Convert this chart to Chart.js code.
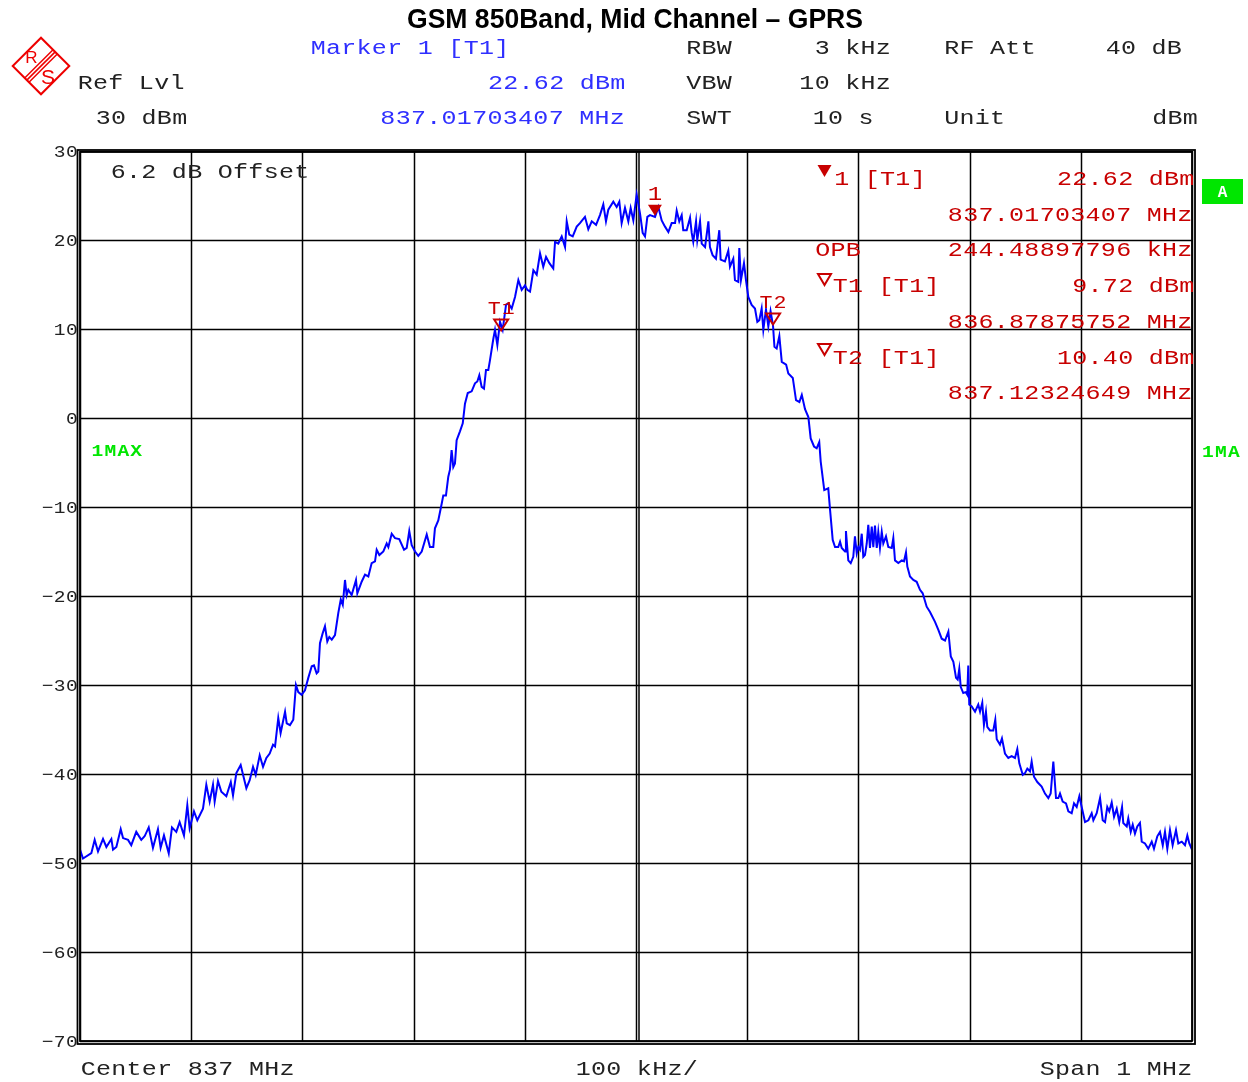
<!DOCTYPE html>
<html>
<head>
<meta charset="utf-8">
<title>GSM 850Band, Mid Channel – GPRS</title>
<script src="https://cdn.jsdelivr.net/npm/chart.js@4.4.1/dist/chart.umd.min.js"></script>
<style>
  html, body { margin: 0; padding: 0; background: #fff; }
  canvas { display: block; }
</style>
</head>
<body>
<canvas id="spectrum" width="1248" height="1082"></canvas>
<script>
// Trace: offset from 837 MHz centre (kHz) and level (dBm)
const freqOffsetKHz = [
  -500, -497.3, -489.8, -486.8, -483.8, -479.3, -476.3, -471.8, -470.3, -467.3,
  -463.4, -461.3, -456.8, -453.9, -449.4, -444.9, -441.9, -438.2, -434.4, -429.9,
  -427.5, -424.5, -420.2, -417.3, -413.4, -410.4, -406.5, -403.5, -401.4, -397.5,
  -394.5, -389.4, -386.4, -383.4, -380.4, -378.9, -375.9, -372.9, -368.4, -364.4,
  -362.4, -359.4, -355.5, -350.4, -347.4, -344.4, -342.0, -338.4, -335.4, -332.4,
  -329.4, -326.4, -324.6, -321.7, -319.6, -315.6, -314.1, -311.2, -308.2, -305.8,
  -303.7, -300.7, -297.7, -294.7, -291.6, -289.6, -287.2, -285.7, -284.2, -281.8,
  -279.7, -277.6, -275.8, -273.6, -270.7, -267.7, -265.5, -263.7, -261.7, -260.2,
  -258.7, -255.7, -251.8, -250.6, -246.7, -243.7, -240.7, -237.7, -234.7, -233.2,
  -230.8, -227.2, -224.2, -222.7, -219.7, -216.7, -212.9, -208.6, -206.2, -203.9,
  -201.7, -198.7, -195.8, -192.7, -188.2, -185.3, -182.3, -180.8, -177.8, -174.7,
  -173.3, -170.9, -168.8, -167.3, -165.8, -164.3, -162.8, -161.3, -158.3, -155.8,
  -153.8, -151.3, -147.8, -144.8, -142.7, -140.9, -138.8, -136.7, -134.9, -132.8,
  -131.3, -128.3, -126.8, -124.7, -122.3, -119.9, -116.9, -114.8, -111.8, -108.8,
  -105.8, -102.8, -99.8, -97.7, -95.3, -92.3, -89.3, -86.3, -83.4, -80.9,
  -77.9, -74.4, -72.8, -69.9, -66.8, -63.8, -62.3, -60.0, -56.9, -53.3,
  -50.4, -45.9, -42.9, -39.8, -35.9, -32.4, -29.4, -27.0, -24.9, -20.4,
  -17.4, -15.0, -12.9, -9.9, -6.9, -4.8, -2.4, 0.6, 3.6, 6.0,
  8.1, 10.2, 12.6, 17.1, 20.1, 23.1, 26.1, 29.1, 32.1, 35.1,
  36.6, 38.9, 41.1, 42.5, 45.6, 48.6, 50.1, 51.5, 54.0, 55.1,
  57.6, 59.1, 62.1, 65.1, 66.5, 68.9, 71.9, 74.9, 76.1, 80.0,
  83.0, 84.5, 87.5, 89.0, 92.0, 92.9, 94.4, 97.1, 98.9, 101.0,
  104.0, 107.0, 109.1, 110.9, 113.0, 114.5, 116.9, 119.0, 121.0, 123.2,
  124.5, 126.5, 128.9, 131.1, 135.0, 137.0, 141.0, 143.9, 146.9, 149.1,
  152.0, 155.0, 157.1, 160.1, 162.5, 164.8, 166.1, 169.3, 172.9, 174.5,
  176.9, 179.0, 181.9, 183.5, 185.0, 188.0, 188.8, 190.9, 193.1, 195.4,
  196.9, 198.5, 199.9, 201.4, 203.0, 204.4, 205.9, 207.5, 208.9, 210.4,
  212.0, 213.4, 214.9, 216.5, 217.9, 219.4, 221.0, 222.4, 224.8, 226.9,
  230.0, 231.4, 232.9, 235.9, 239.0, 241.0, 242.8, 244.0, 246.4, 249.4,
  252.4, 255.4, 257.8, 261.4, 264.4, 268.9, 271.9, 274.9, 277.9, 280.9,
  283.1, 285.4, 287.8, 289.3, 290.7, 292.0, 294.3, 296.5, 297.9, 298.8,
  299.7, 301.9, 304.9, 307.8, 309.4, 311.4, 312.9, 314.7, 315.9, 318.3,
  321.3, 323.1, 324.4, 327.3, 329.1, 331.8, 334.8, 337.8, 340.8, 342.9,
  344.7, 347.8, 349.8, 351.9, 354.3, 355.8, 357.9, 360.9, 364.8, 367.8,
  370.8, 372.9, 375.3, 377.7, 379.8, 381.3, 383.7, 386.7, 388.8, 391.8,
  393.9, 396.3, 398.7, 400.8, 403.8, 406.8, 409.8, 411.3, 414.3, 417.3,
  419.7, 421.8, 423.8, 425.6, 427.8, 429.9, 432.3, 434.6, 437.1, 438.2,
  441.3, 442.7, 444.9, 446.7, 448.7, 450.8, 453.2, 454.8, 457.7, 460.7,
  463.8, 465.8, 468.8, 471.2, 473.7, 475.7, 477.8, 480.2, 482.6, 485.6,
  487.7, 490.8, 493.7, 495.8, 497.6, 500
];
const traceLevelDbm = [
  -48.5, -49.5, -48.9, -47.4, -48.7, -47.3, -48.2, -47.3, -48.5, -48.2,
  -46.2, -47.2, -47.4, -48.0, -46.5, -47.4, -47.0, -46.0, -48.3, -46.2,
  -48.3, -46.9, -48.9, -46.0, -46.5, -45.4, -46.9, -43.5, -46.1, -44.2,
  -45.2, -43.9, -41.2, -43.1, -41.2, -43.1, -40.8, -42.0, -42.5, -40.9,
  -42.4, -39.9, -39.0, -41.6, -40.7, -39.2, -40.1, -37.9, -39.2, -38.2,
  -37.7, -36.7, -36.9, -33.7, -35.4, -33.0, -34.3, -34.5, -33.9, -30.0,
  -30.8, -31.1, -30.6, -29.2, -27.9, -27.8, -28.7, -28.5, -25.3, -24.2,
  -23.4, -25.1, -24.6, -24.9, -24.4, -21.9, -20.4, -21.0, -18.2, -19.9,
  -19.3, -19.9, -18.2, -19.7, -18.4, -17.6, -17.8, -16.3, -16.1, -14.8,
  -15.4, -15.0, -14.1, -14.5, -13.0, -13.5, -13.6, -14.8, -14.6, -12.7,
  -14.3, -15.0, -15.5, -15.0, -13.1, -14.5, -14.5, -12.4, -11.5, -9.6,
  -8.7, -8.7, -6.6, -5.8, -3.6, -5.5, -5.1, -2.5, -1.5, -0.6,
  1.6, 2.8, 3.0, 3.9, 4.1, 4.8, 3.5, 3.3, 5.4, 5.4,
  6.5, 8.9, 9.9, 8.2, 10.8, 9.9, 12.7, 12.9, 12.3, 13.6,
  15.5, 14.4, 14.9, 14.4, 14.2, 16.6, 16.1, 18.5, 17.0, 18.1,
  17.4, 16.8, 19.8, 19.6, 20.4, 19.2, 22.1, 20.6, 20.4, 21.5,
  21.9, 22.6, 21.2, 22.1, 21.7, 22.8, 24.0, 22.1, 23.4, 24.3,
  23.7, 24.3, 21.9, 23.6, 22.1, 23.6, 22.2, 25.1, 23.0, 20.8,
  20.4, 22.6, 22.8, 22.6, 23.7, 22.2, 21.5, 20.9, 21.9, 21.9,
  23.3, 22.1, 22.8, 21.1, 21.1, 22.5, 20.8, 19.8, 22.1, 20.0,
  22.1, 19.6, 19.2, 22.1, 19.2, 18.3, 17.9, 21.1, 17.8, 17.6,
  18.8, 17.0, 17.9, 15.5, 15.3, 19.1, 15.5, 17.4, 15.5, 13.6,
  12.7, 12.3, 10.8, 11.0, 12.3, 9.9, 12.2, 10.3, 12.0, 10.4,
  8.0, 7.8, 9.2, 6.3, 6.0, 5.0, 4.5, 2.0, 1.8, 2.6,
  1.0, 0.1, -2.3, -3.2, -3.4, -2.7, -4.9, -8.1, -7.9, -10.3,
  -13.7, -14.5, -14.5, -13.9, -14.6, -15.0, -12.7, -16.0, -16.3, -15.6,
  -13.3, -15.2, -14.5, -14.8, -13.0, -15.6, -15.4, -14.1, -12.0, -14.6,
  -12.2, -14.5, -12.1, -14.6, -12.8, -14.6, -12.8, -14.1, -13.3, -14.5,
  -14.6, -13.5, -16.0, -16.3, -16.0, -16.1, -15.1, -16.7, -17.8, -18.2,
  -18.4, -19.3, -19.7, -21.2, -21.8, -22.9, -23.8, -24.8, -25.0, -24.0,
  -26.8, -27.4, -29.2, -29.4, -28.2, -30.2, -30.9, -30.8, -31.1, -27.8,
  -32.2, -32.4, -33.0, -32.2, -33.0, -32.0, -34.5, -33.0, -34.7, -35.1,
  -35.1, -33.9, -36.1, -36.7, -36.0, -37.7, -38.2, -38.0, -38.2, -37.2,
  -38.8, -40.1, -39.9, -39.4, -39.7, -38.6, -40.3, -40.9, -41.4, -42.2,
  -42.7, -42.2, -38.6, -42.7, -42.7, -42.2, -43.1, -43.3, -44.2, -44.4,
  -43.3, -43.7, -42.5, -43.7, -45.4, -45.2, -44.4, -45.2, -44.4, -42.7,
  -45.2, -45.4, -43.7, -44.2, -43.2, -44.8, -43.9, -45.4, -43.7, -45.5,
  -45.9, -45.0, -46.5, -45.7, -46.7, -45.9, -45.5, -47.6, -47.8, -48.4,
  -47.6, -48.4, -47.0, -46.5, -48.0, -46.5, -48.4, -46.3, -48.0, -46.3,
  -47.8, -47.6, -48.0, -46.9, -47.8, -48.5
];

// Markers (offset kHz, level dBm, label, filled?)
const markerOffsetKHz = [17.03, -121.24, 123.25];
const markerLevelDbm = [22.62, 9.72, 10.40];
const markerNames = ['1', 'T1', 'T2'];
const markerFilled = [true, false, false];

// Axis ticks
const yTickValues = [30, 20, 10, 0, -10, -20, -30, -40, -50, -60, -70];
const xTickValues = [-500, -400, -300, -200, -100, 0, 100, 200, 300, 400, 500];

const MONO = '"Liberation Mono", "DejaVu Sans Mono", monospace';
const RED = '#c80000';
const BLUE = '#2f2fff';
const GREEN = '#00e600';

// draw text on a fixed character pitch, glyphs widened like the analyser's screen font
function mono(ctx, text, x, y, pitch, align, stretch) {
    const n = text.length;
    const sx = stretch || 1.25;
    let start = x;
    if (align === 'right') start = x - n * pitch;
    if (align === 'center') start = x - n * pitch / 2;
    ctx.textAlign = 'center';
    for (let i = 0; i < n; i++) {
        ctx.save();
        ctx.translate(start + i * pitch + pitch / 2, y);
        ctx.scale(sx, 1);
        ctx.fillText(text[i], 0, 0);
        ctx.restore();
    }
}

function triangle(ctx, cx, tipY, w, h, filled) {
    ctx.beginPath();
    ctx.moveTo(cx, tipY);
    ctx.lineTo(cx - w / 2, tipY - h);
    ctx.lineTo(cx + w / 2, tipY - h);
    ctx.closePath();
    if (filled) {
        ctx.fill();
    } else {
        ctx.lineWidth = 2;
        ctx.stroke();
    }
}

const analyserPlugin = {
    id: 'analyser',
    beforeDraw(chart) {
        const ctx = chart.ctx;
        ctx.save();
        ctx.fillStyle = '#fff';
        ctx.fillRect(0, 0, chart.width, chart.height);
        ctx.restore();
    },
    beforeDatasetsDraw(chart) {
        const ctx = chart.ctx;
        const xs = chart.scales.x;
        const ys = chart.scales.y;
        const a = chart.chartArea;
        ctx.save();
        ctx.strokeStyle = '#000';
        ctx.lineWidth = 1.5;
        xTickValues.forEach(v => {
            const px = Math.round(xs.getPixelForValue(v)) + 0.5;
            ctx.beginPath();
            ctx.moveTo(px, a.top);
            ctx.lineTo(px, a.bottom);
            ctx.stroke();
        });
        // centre frequency line is drawn doubled
        const cpx = Math.round(xs.getPixelForValue(0)) + 3;
        ctx.beginPath();
        ctx.moveTo(cpx, a.top);
        ctx.lineTo(cpx, a.bottom);
        ctx.stroke();
        yTickValues.forEach(v => {
            const py = Math.round(ys.getPixelForValue(v)) + 0.5;
            ctx.beginPath();
            ctx.moveTo(a.left, py);
            ctx.lineTo(a.right, py);
            ctx.stroke();
        });
        // y tick labels
        ctx.fillStyle = '#222';
        ctx.font = '17px ' + MONO;
        yTickValues.forEach(v => {
            const label = v < 0 ? '\u2212' + Math.abs(v) : String(v);
            mono(ctx, label, a.left - 2, ys.getPixelForValue(v) + 6, 12.2, 'right', 1.15);
        });
        ctx.restore();
    },
    afterDatasetsDraw(chart) {
        const ctx = chart.ctx;
        const xs = chart.scales.x;
        const ys = chart.scales.y;
        const a = chart.chartArea;
        ctx.save();

        // double frame
        ctx.strokeStyle = '#000';
        ctx.lineWidth = 1.8;
        ctx.strokeRect(a.left, a.top + 1, a.right - a.left, a.bottom - a.top - 1);
        ctx.strokeRect(a.left - 2.5, a.top - 1, a.right - a.left + 5.5, a.bottom - a.top + 4);

        // trace markers
        ctx.fillStyle = RED;
        ctx.strokeStyle = RED;
        markerOffsetKHz.forEach((f, i) => {
            const px = xs.getPixelForValue(f);
            const py = ys.getPixelForValue(markerLevelDbm[i]);
            triangle(ctx, px, py - 1, 14, 11, markerFilled[i]);
            ctx.font = (i === 0 ? '20px ' : '18px ') + MONO;
            mono(ctx, markerNames[i], px, py - 17, 14, 'center', 1.2);
        });

        // marker table
        ctx.font = '20px ' + MONO;
        const p = 15.3;
        triangle(ctx, 824.5, 177, 14, 12, true);
        mono(ctx, '1 [T1]', 834, 185, p);
        mono(ctx, '22.62 dBm', 1194.5, 185, p, 'right');
        mono(ctx, '837.01703407 MHz', 1192.5, 220.7, p, 'right');
        mono(ctx, 'OPB', 815, 256.4, p);
        mono(ctx, '244.48897796 kHz', 1192.5, 256.4, p, 'right');
        triangle(ctx, 824.5, 285, 13, 11, false);
        mono(ctx, 'T1 [T1]', 832.5, 292.1, p);
        mono(ctx, '9.72 dBm', 1194.5, 292.1, p, 'right');
        mono(ctx, '836.87875752 MHz', 1192.5, 327.8, p, 'right');
        triangle(ctx, 824.5, 355, 13, 11, false);
        mono(ctx, 'T2 [T1]', 832.5, 363.5, p);
        mono(ctx, '10.40 dBm', 1194.5, 363.5, p, 'right');
        mono(ctx, '837.12324649 MHz', 1192.5, 399.2, p, 'right');

        // offset note
        ctx.fillStyle = '#222';
        mono(ctx, '6.2 dB Offset', 110.5, 178, p);

        // trace labels
        ctx.fillStyle = GREEN;
        ctx.font = 'bold 17px ' + MONO;
        mono(ctx, '1MAX', 91, 456, 12.9, 'left', 1.15);
        mono(ctx, '1MA', 1201.5, 456.5, 12.9, 'left', 1.15);
        ctx.restore();
    },
    afterDraw(chart) {
        const ctx = chart.ctx;
        ctx.save();

        // title
        ctx.fillStyle = '#000';
        ctx.font = 'bold 27px "Liberation Sans", Arial, sans-serif';
        ctx.textAlign = 'center';
        ctx.fillText('GSM 850Band, Mid Channel \u2013 GPRS', 635, 28, 456);

        // R&S logo
        ctx.save();
        ctx.translate(41, 66);
        ctx.rotate(Math.PI / 4);
        ctx.strokeStyle = '#ee0000';
        ctx.lineWidth = 2;
        ctx.strokeRect(-20, -20, 40, 40);
        ctx.lineWidth = 1.5;
        [-3, 0, 3].forEach(d => {
            ctx.beginPath();
            ctx.moveTo(d, -20);
            ctx.lineTo(d, 20);
            ctx.stroke();
        });
        ctx.restore();
        ctx.fillStyle = '#ee0000';
        ctx.font = '17px "Liberation Sans", Arial, sans-serif';
        ctx.textAlign = 'center';
        ctx.fillText('R', 31.5, 63);
        ctx.font = '21px "Liberation Sans", Arial, sans-serif';
        ctx.fillText('S', 48, 84);

        // header block
        const p = 15.3;
        ctx.font = '20px ' + MONO;
        ctx.fillStyle = BLUE;
        mono(ctx, 'Marker 1 [T1]', 310.5, 54, p);
        mono(ctx, '22.62 dBm', 625.5, 89, p, 'right');
        mono(ctx, '837.01703407 MHz', 625, 124, p, 'right');
        ctx.fillStyle = '#222';
        mono(ctx, 'Ref Lvl', 77.5, 89, p);
        mono(ctx, '30 dBm', 95.5, 124, p);
        mono(ctx, 'RBW', 686, 54, p);
        mono(ctx, 'VBW', 686, 89, p);
        mono(ctx, 'SWT', 686, 124, p);
        mono(ctx, '3 kHz', 891, 54, p, 'right');
        mono(ctx, '10 kHz', 891, 89, p, 'right');
        mono(ctx, '10 s', 812.5, 124, p);
        mono(ctx, 'RF Att', 944, 54, p);
        mono(ctx, '40 dB', 1182, 54, p, 'right');
        mono(ctx, 'Unit', 944, 124, p);
        mono(ctx, 'dBm', 1198, 124, p, 'right');

        // bottom axis text
        mono(ctx, 'Center 837 MHz', 80.5, 1075, p);
        mono(ctx, '100 kHz/', 575.5, 1075, p);
        mono(ctx, 'Span 1 MHz', 1192.5, 1075, p, 'right');

        // trace box "A"
        ctx.fillStyle = GREEN;
        ctx.fillRect(1202, 179, 41, 25);
        ctx.fillStyle = '#fff';
        ctx.font = 'bold 16px ' + MONO;
        ctx.textAlign = 'center';
        ctx.fillText('A', 1222.5, 197);
        ctx.restore();
    }
};

const traceData = freqOffsetKHz.map((f, i) => ({ x: f, y: traceLevelDbm[i] }));

new Chart(document.getElementById('spectrum').getContext('2d'), {
    type: 'line',
    data: {
        datasets: [{
            label: '1MAX',
            data: traceData,
            borderColor: 'rgb(0, 0, 255)',
            borderWidth: 2,
            pointRadius: 0,
            tension: 0,
            fill: false
        }]
    },
    options: {
        responsive: false,
        animation: false,
        layout: {
            padding: { left: 80, right: 56, top: 151, bottom: 41 }
        },
        plugins: {
            legend: { display: false },
            tooltip: { enabled: false }
        },
        scales: {
            x: { type: 'linear', display: false, min: -500, max: 500 },
            y: { type: 'linear', display: false, min: -70, max: 30 }
        }
    },
    plugins: [analyserPlugin]
});
</script>
</body>
</html>
